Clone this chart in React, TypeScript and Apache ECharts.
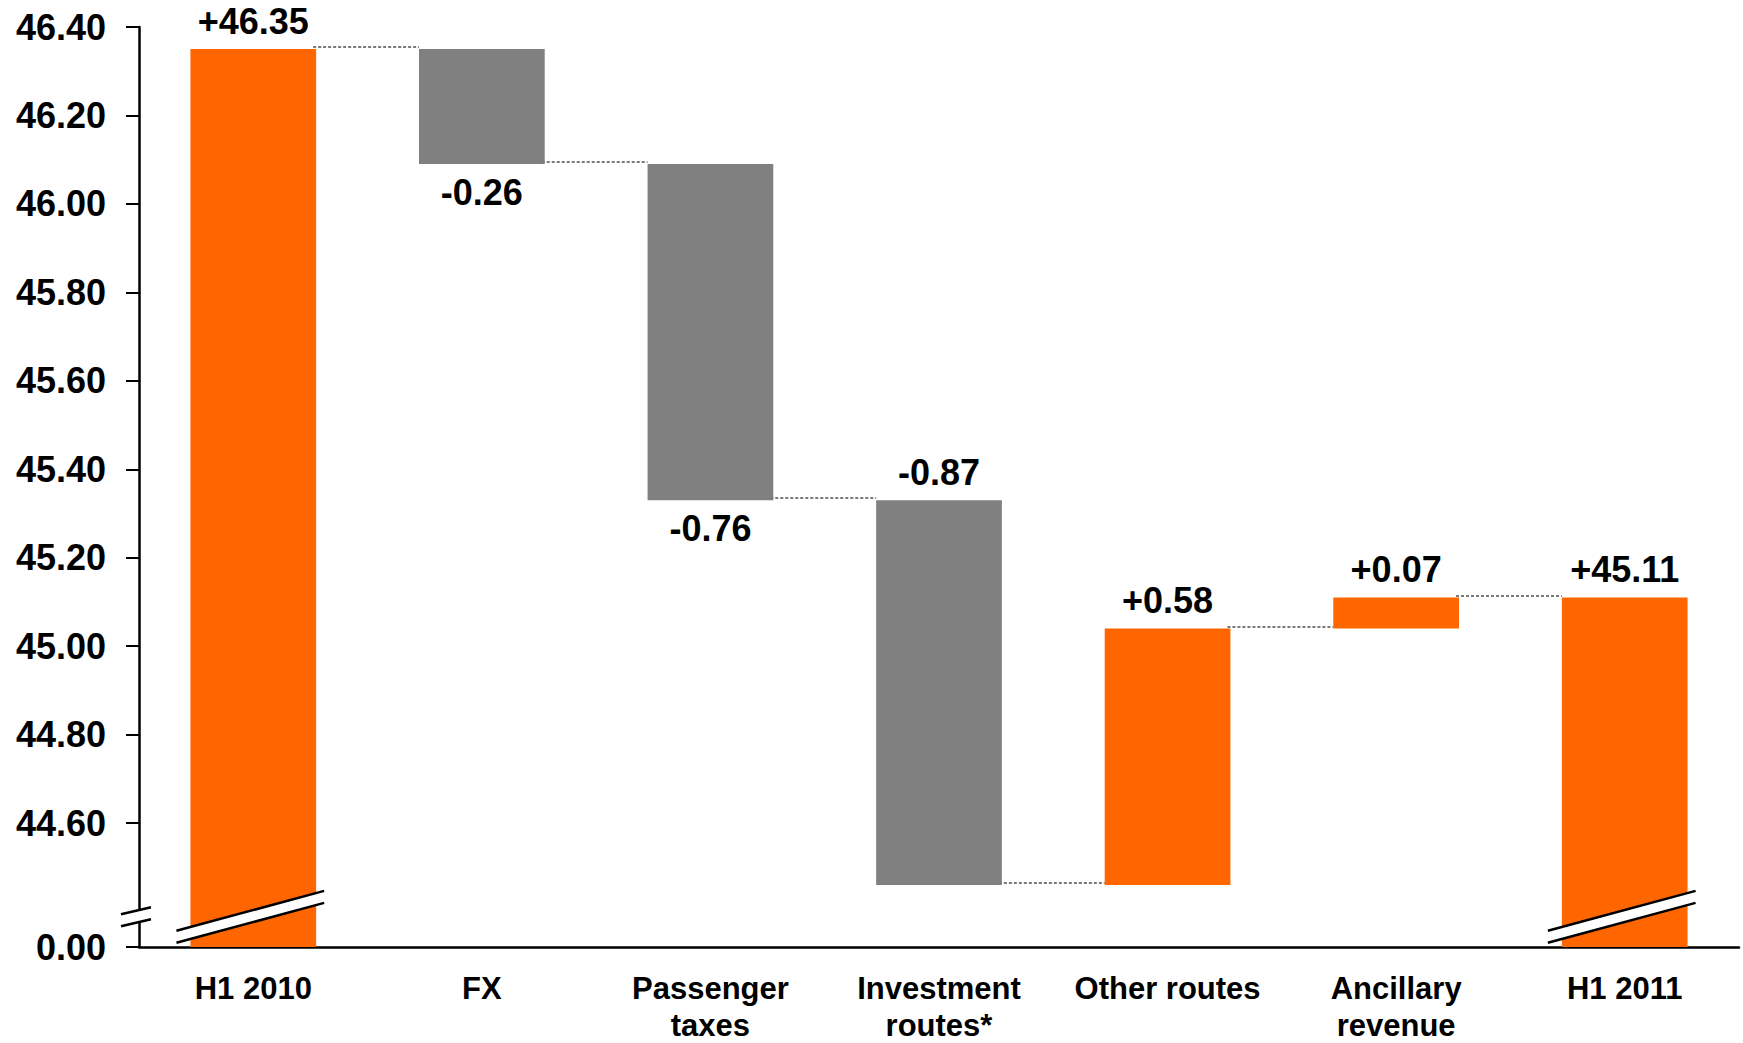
import React, { useEffect, useRef } from "react";
import * as echarts from "echarts";

// Revenue per passenger bridge, H1 2010 -> H1 2011
const CATEGORIES = [
  "H1 2010",
  "FX",
  "Passenger\ntaxes",
  "Investment\nroutes*",
  "Other routes",
  "Ancillary\nrevenue",
  "H1 2011",
];
const OPENING_TOTAL = 46.35;
const CHANGES = [-0.26, -0.76, -0.87, 0.58, 0.07];
const CLOSING_TOTAL = 45.11;

// Value axis: a broken scale, the floor stands for zero
const Y_TICK_VALUES = [44.6, 44.8, 45.0, 45.2, 45.4, 45.6, 45.8, 46.0, 46.2, 46.4];
const AXIS_FLOOR = 44.32;
const AXIS_CEIL = 46.4;
const BREAK_LEVEL = 44.39;

const ORANGE = "#FF6600";
const GREY = "#808080";
const FONT = "'Liberation Sans', Arial, Helvetica, sans-serif";
const LABELS_BELOW = new Set([1, 2]);

type Row = [number, number, number, number, number, number];

function buildRows(): Row[] {
  const rows: Row[] = [];
  let level = OPENING_TOTAL;
  rows.push([0, AXIS_FLOOR, OPENING_TOTAL, OPENING_TOTAL, level, 0]);
  CHANGES.forEach((d, k) => {
    const next = Math.round((level + d) * 100) / 100;
    rows.push([k + 1, Math.min(level, next), Math.max(level, next), d, next, d < 0 ? 1 : 2]);
    level = next;
  });
  rows.push([CATEGORIES.length - 1, AXIS_FLOOR, CLOSING_TOTAL, CLOSING_TOTAL, CLOSING_TOTAL, 0]);
  return rows;
}

function breakMark(cx: number, yc: number, left: number, right: number, slope: number) {
  const gap = 12;
  const yt = (x: number) => yc - gap / 2 + (x - cx) * slope;
  const lineStyle = { stroke: "#000", lineWidth: 2.5 };
  return [
    {
      type: "polygon",
      shape: {
        points: [
          [left, yt(left)],
          [right, yt(right)],
          [right, yt(right) + gap],
          [left, yt(left) + gap],
        ],
      },
      style: { fill: "#fff", stroke: null },
    },
    { type: "line", shape: { x1: left, y1: yt(left), x2: right, y2: yt(right) }, style: lineStyle },
    {
      type: "line",
      shape: { x1: left, y1: yt(left) + gap, x2: right, y2: yt(right) + gap },
      style: lineStyle,
    },
  ];
}

function fmtDelta(v: number) {
  return (v >= 0 ? "+" : "-") + Math.abs(v).toFixed(2);
}

export default function App() {
  const ref = useRef<HTMLDivElement>(null);

  useEffect(() => {
    if (!ref.current) return;
    const chart = echarts.init(ref.current, undefined, { renderer: "svg" });
    const rows = buildRows();
    const last = CATEGORIES.length - 1;

    const renderItem = (_params: any, api: any) => {
      const i = api.value(0);
      const lo = api.value(1);
      const hi = api.value(2);
      const delta = api.value(3);
      const after = api.value(4);
      const kind = api.value(5);
      const band = api.size([1, 0])[0];
      const barW = band * 0.55;
      const [cx, yTop] = api.coord([i, hi]);
      const yBot = api.coord([i, lo])[1];
      const children: any[] = [
        {
          type: "rect",
          shape: { x: cx - barW / 2, y: yTop, width: barW, height: yBot - yTop },
          style: { fill: kind === 1 ? GREY : ORANGE },
        },
      ];
      if (i < last) {
        const yc = Math.round(api.coord([i, after])[1]) - 2;
        children.push({
          type: "line",
          shape: { x1: cx + barW / 2 - 3, y1: yc, x2: cx + band - barW / 2, y2: yc },
          style: { stroke: "#7a7a7a", lineWidth: 2, lineDash: [3, 2] },
        });
      }
      const below = LABELS_BELOW.has(i);
      children.push({
        type: "text",
        style: {
          text: fmtDelta(delta),
          x: cx,
          y: below ? yBot + 28 : yTop - 28,
          align: "center",
          verticalAlign: "middle",
          fontFamily: FONT,
          fontWeight: "bold",
          fontSize: 36,
          fill: "#000",
        },
      });
      if (kind === 0) {
        const yb = api.coord([i, BREAK_LEVEL])[1];
        children.push(...breakMark(cx, yb, cx - barW / 2 - 14, cx + barW / 2 + 8, -0.27));
      }
      if (i === 0) {
        const ax = cx - band / 2;
        const yb = api.coord([i, BREAK_LEVEL])[1];
        children.push(...breakMark(ax, yb, ax - 18, ax + 12, -0.23));
      }
      return { type: "group", children };
    };

    const labelValues = [AXIS_FLOOR, ...Y_TICK_VALUES];

    chart.setOption({
      animation: false,
      backgroundColor: "#fff",
      grid: { left: 139, right: 4, top: 27, bottom: 96, containLabel: false, outerBoundsMode: "none" },
      xAxis: {
        type: "category",
        data: CATEGORIES,
        axisTick: { show: false },
        axisLine: { lineStyle: { color: "#000", width: 2.5 } },
        axisLabel: {
          color: "#000",
          fontFamily: FONT,
          fontWeight: "bold",
          fontSize: 31,
          lineHeight: 37,
          margin: 23,
          interval: 0,
        },
      },
      yAxis: {
        type: "value",
        min: AXIS_FLOOR,
        max: AXIS_CEIL,
        splitLine: { show: false },
        axisLine: { show: true, lineStyle: { color: "#000", width: 2.5 } },
        axisTick: {
          show: true,
          length: 13,
          customValues: labelValues,
          lineStyle: { color: "#000", width: 2 },
        },
        axisLabel: {
          customValues: labelValues,
          color: "#000",
          fontFamily: FONT,
          fontWeight: "bold",
          fontSize: 36,
          margin: 33,
          formatter: (v: number) =>
            Math.abs(v - AXIS_FLOOR) < 1e-6 ? "0.00" : v.toFixed(2),
        },
      },
      series: [
        {
          type: "custom",
          renderItem,
          encode: { x: 0, y: [1, 2] },
          data: rows,
          clip: false,
          z: 5,
        },
      ],
    });

    return () => chart.dispose();
  }, []);

  return (
    <div
      ref={ref}
      style={{ position: "fixed", left: 0, top: 0, width: 1743, height: 1043, background: "#fff" }}
    />
  );
}
